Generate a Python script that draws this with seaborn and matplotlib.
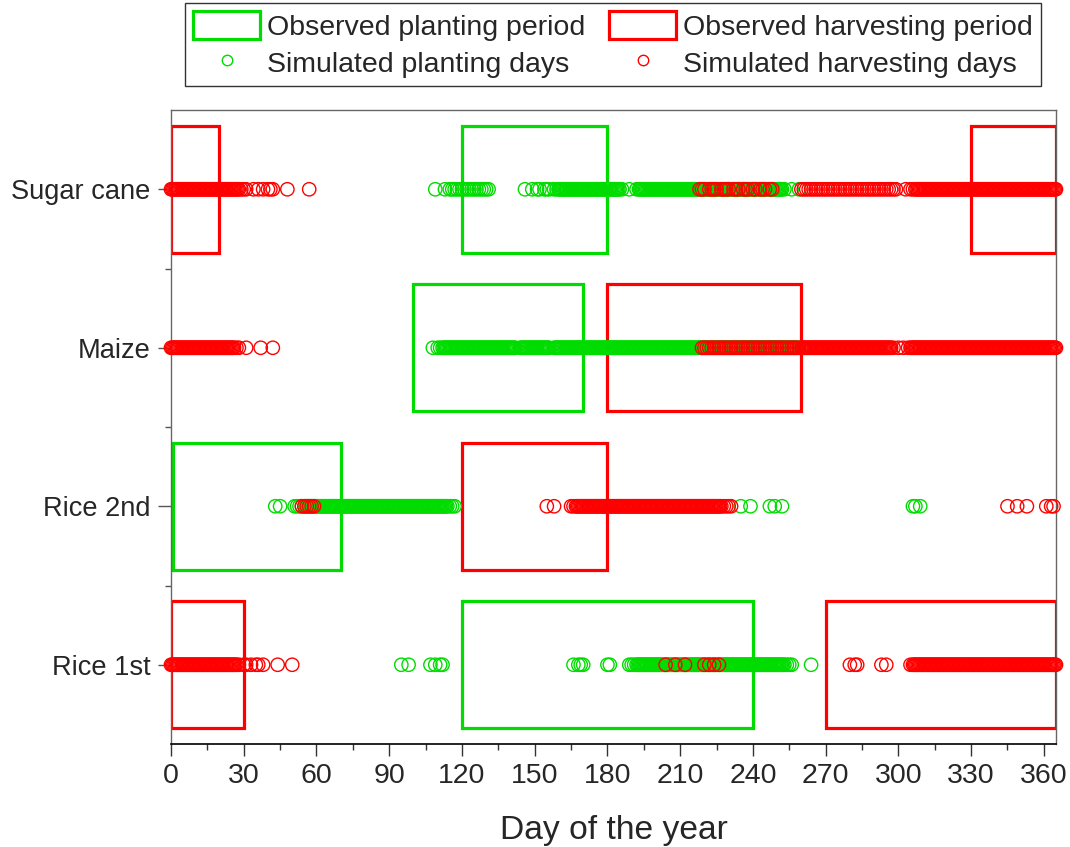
import matplotlib
matplotlib.use("Agg")
import matplotlib.pyplot as plt
from matplotlib.patches import Rectangle
from matplotlib.lines import Line2D
import pandas as pd
import seaborn as sns

sns.set_style("ticks")
plt.rcParams["font.family"] = ["Liberation Sans", "DejaVu Sans"]

GREEN = "#00dc00"
RED = "#ff0000"

crops = ["Rice 1st", "Rice 2nd", "Maize", "Sugar cane"]

# Observed windows (start day, end day)
plant_obs_cane = [(120, 180)]
harv_obs_cane = [(0, 20), (330, 365)]
plant_obs_maize = [(100, 170)]
harv_obs_maize = [(180, 260)]
plant_obs_rice2 = [(1, 70)]
harv_obs_rice2 = [(120, 180)]
plant_obs_rice1 = [(120, 240)]
harv_obs_rice1 = [(0, 30), (270, 365)]

# Simulated planting days
plant_sim_cane = [
    109, 113, 115, 116, 117, 118, 119, 120, 121, 122, 123, 124, 125, 126, 127, 128,
    129, 130, 131,
    146, 149, 151, 152, 154, 155, 156, 158, 159,
    160, 160.5, 161, 161.5, 162, 162.5, 163, 163.5, 164, 164.5, 165, 165.5, 166,
    166.5, 167, 167.5, 168, 168.5, 169, 169.5, 170, 170.5, 171, 171.5, 172, 172.5,
    173, 173.5, 174, 174.5, 175, 175.5, 176, 176.5, 177, 177.5, 178, 178.5, 179,
    179.5, 180, 180.5, 181, 181.5, 182, 182.5, 183, 183.5, 184, 184.5, 185, 186, 189,
    192, 193, 193.5, 194, 194.5, 195, 195.5, 196, 196.5, 197, 197.5, 198, 198.5, 199,
    199.5, 200, 200.5, 201, 201.5, 202, 202.5, 203, 203.5, 204, 204.5, 205, 205.5,
    206, 206.5, 207, 207.5, 208, 208.5, 209, 209.5, 210, 210.5, 211, 211.5, 212,
    212.5, 213, 213.5, 214, 214.5, 215, 215.5, 216, 216.5, 217, 217.5, 218, 218.5,
    219, 219.5, 220, 220.5, 221, 221.5, 222, 222.5, 223, 223.5, 224, 224.5, 225,
    225.5, 226, 226.5, 227, 227.5, 228, 228.5, 229, 229.5, 230, 230.5, 231, 231.5,
    232, 232.5, 233, 233.5, 234, 234.5, 235, 235.5, 236, 236.5, 237, 237.5, 238,
    238.5, 239, 239.5, 240, 240.5, 241, 241.5, 242, 242.5, 243, 243.5, 244, 244.5,
    245, 245.5, 246, 246.5, 247, 247.5, 248, 248.5, 249, 249.5, 250, 250.5, 251,
    251.5, 252, 253, 256, 259,
]
plant_sim_maize = [
    108, 110, 111, 112, 112.5, 113, 113.5, 114, 114.5, 115, 115.5, 116, 116.5, 117,
    117.5, 118, 118.5, 119, 119.5, 120, 120.5, 121, 121.5, 122, 122.5, 123, 123.5,
    124, 124.5, 125, 125.5, 126, 126.5, 127, 127.5, 128, 128.5, 129, 129.5, 130,
    130.5, 131, 131.5, 132, 132.5, 133, 133.5, 134, 134.5, 135, 135.5, 136, 136.5,
    137, 137.5, 138, 138.5, 139, 139.5, 140, 140.5, 141, 141.5, 142, 144, 144.5, 145,
    145.5, 146, 146.5, 147, 147.5, 148, 148.5, 149, 149.5, 150, 150.5, 151, 151.5,
    152, 152.5, 153, 153.5, 154, 154.5, 155, 155.5, 156, 158, 158.5, 159, 159.5, 160,
    160.5, 161, 161.5, 162, 162.5, 163, 163.5, 164, 164.5, 165, 165.5, 166, 166.5,
    167, 167.5, 168, 168.5, 169, 169.5, 170, 170.5, 171, 171.5, 172, 172.5, 173,
    173.5, 174, 174.5, 175, 175.5, 176, 176.5, 177, 177.5, 178, 178.5, 179, 179.5,
    180, 180.5, 181, 181.5, 182, 182.5, 183, 183.5, 184, 184.5, 185, 185.5, 186,
    186.5, 187, 187.5, 188, 188.5, 189, 189.5, 190, 190.5, 191, 191.5, 192, 192.5,
    193, 193.5, 194, 194.5, 195, 195.5, 196, 196.5, 197, 197.5, 198, 198.5, 199,
    199.5, 200, 200.5, 201, 201.5, 202, 202.5, 203, 203.5, 204, 204.5, 205, 205.5,
    206, 206.5, 207, 207.5, 208, 208.5, 209, 209.5, 210, 210.5, 211, 211.5, 212,
    212.5, 213, 213.5, 214, 214.5, 215, 215.5, 216, 216.5, 217, 217.5, 218, 218.5,
    219, 219.5, 220, 220.5, 221, 221.5, 222, 222.5, 223, 223.5, 224, 224.5, 225,
    225.5, 226, 226.5, 227, 227.5, 228, 228.5, 229, 229.5, 230, 230.5, 231, 231.5,
    232, 232.5, 233, 233.5, 234, 234.5, 235, 235.5, 236, 236.5, 237, 237.5, 238,
    238.5, 239, 239.5, 240, 240.5, 241, 241.5, 242, 242.5, 243, 243.5, 244, 244.5,
    245, 245.5, 246, 246.5, 247, 247.5, 248, 248.5, 249, 249.5, 250, 250.5, 251,
    251.5, 252, 252.5, 253, 253.5, 254, 254.5, 255, 255.5, 256, 256.5, 257, 257.5,
    258, 259,
]
plant_sim_rice2 = [
    43, 45, 51, 52, 53, 54, 55, 55.5, 56, 56.5, 57, 57.5, 58, 58.5, 59, 59.5, 60,
    60.5, 61, 61.5, 62, 62.5, 63, 63.5, 64, 64.5, 65, 65.5, 66, 66.5, 67, 67.5, 68,
    68.5, 69, 69.5, 70, 70.5, 71, 71.5, 72, 72.5, 73, 73.5, 74, 74.5, 75, 75.5, 76,
    76.5, 77, 77.5, 78, 78.5, 79, 79.5, 80, 80.5, 81, 81.5, 82, 82.5, 83, 83.5, 84,
    84.5, 85, 85.5, 86, 86.5, 87, 87.5, 88, 88.5, 89, 89.5, 90, 90.5, 91, 91.5, 92,
    92.5, 93, 93.5, 94, 94.5, 95, 95.5, 96, 96.5, 97, 97.5, 98, 98.5, 99, 99.5, 100,
    100.5, 101, 101.5, 102, 102.5, 103, 103.5, 104, 104.5, 105, 105.5, 106, 106.5,
    107, 107.5, 108, 108.5, 109, 109.5, 110, 110.5, 111, 111.5, 112, 112.5, 113,
    113.5, 114, 115, 116, 117,
    235, 239, 247, 249, 252, 306, 307, 309,
]
plant_sim_rice1 = [
    95, 98, 107, 109, 111, 112, 166, 168, 169, 170, 180, 181,
    189, 190, 191, 192, 192.5, 193, 193.5, 194, 194.5, 195, 195.5, 196, 196.5, 197,
    197.5, 198, 198.5, 199, 199.5, 200, 200.5, 201, 201.5, 202, 202.5, 203, 203.5,
    204, 204.5, 205, 205.5, 206, 206.5, 207, 207.5, 208, 208.5, 209, 209.5, 210,
    210.5, 211, 211.5, 212, 212.5, 213, 213.5, 214, 214.5, 215, 215.5, 216, 216.5,
    217, 217.5, 218, 218.5, 219, 219.5, 220, 220.5, 221, 221.5, 222, 222.5, 223,
    223.5, 224, 224.5, 225, 225.5, 226, 226.5, 227, 227.5, 228, 228.5, 229, 229.5,
    230, 230.5, 231, 231.5, 232, 232.5, 233, 233.5, 234, 234.5, 235, 235.5, 236,
    236.5, 237, 237.5, 238, 238.5, 239, 239.5, 240, 240.5, 241, 241.5, 242, 242.5,
    243, 243.5, 244, 244.5, 245, 245.5, 246, 246.5, 247, 247.5, 248, 248.5, 249,
    249.5, 250, 250.5, 251, 251.5, 252, 252.5, 253, 254, 255, 256, 264,
]

# Simulated harvesting days
harv_sim_cane = [
    0, 0.5, 1, 1.5, 2, 2.5, 3, 3.5, 4, 4.5, 5, 5.5, 6, 6.5, 7, 7.5, 8, 8.5, 9, 9.5,
    10, 10.5, 11, 11.5, 12, 12.5, 13, 13.5, 14, 14.5, 15, 15.5, 16, 16.5, 17, 17.5,
    18, 18.5, 19, 19.5, 20, 20.5, 21, 21.5, 22, 22.5, 23, 23.5, 24, 24.5, 25, 25.5,
    26, 26.5, 27, 27.5, 28, 29, 30, 31, 34, 36, 38, 40, 41, 42, 48, 57,
    218, 219, 220, 222, 223, 224, 225, 227, 228, 229, 230, 232, 233, 234, 236, 237,
    238, 240, 241, 243, 244, 245, 247, 248,
    260, 261, 262, 263, 264, 265, 266, 267, 268, 269, 270, 271, 272, 273, 274, 275,
    276, 277, 278, 279, 280, 281, 282, 283, 284, 285, 286, 287, 288, 289, 290, 291,
    292, 293, 294, 295, 296, 297, 298, 299, 303,
    305, 306, 307, 307.5, 308, 308.5, 309, 309.5, 310, 310.5, 311, 311.5, 312, 312.5,
    313, 313.5, 314, 314.5, 315, 315.5, 316, 316.5, 317, 317.5, 318, 318.5, 319,
    319.5, 320, 320.5, 321, 321.5, 322, 322.5, 323, 323.5, 324, 324.5, 325, 325.5,
    326, 326.5, 327, 327.5, 328, 328.5, 329, 329.5, 330, 330.5, 331, 331.5, 332,
    332.5, 333, 333.5, 334, 334.5, 335, 335.5, 336, 336.5, 337, 337.5, 338, 338.5,
    339, 339.5, 340, 340.5, 341, 341.5, 342, 342.5, 343, 343.5, 344, 344.5, 345,
    345.5, 346, 346.5, 347, 347.5, 348, 348.5, 349, 349.5, 350, 350.5, 351, 351.5,
    352, 352.5, 353, 353.5, 354, 354.5, 355, 355.5, 356, 356.5, 357, 357.5, 358,
    358.5, 359, 359.5, 360, 360.5, 361, 361.5, 362, 362.5, 363, 363.5, 364, 364.5,
    365,
]
harv_sim_maize = [
    0, 0.5, 1, 1.5, 2, 2.5, 3, 3.5, 4, 4.5, 5, 5.5, 6, 6.5, 7, 7.5, 8, 8.5, 9, 9.5,
    10, 10.5, 11, 11.5, 12, 12.5, 13, 13.5, 14, 14.5, 15, 15.5, 16, 16.5, 17, 17.5,
    18, 18.5, 19, 19.5, 20, 20.5, 21, 21.5, 22, 22.5, 23, 23.5, 24, 24.5, 25, 25.5,
    26, 27, 28, 31, 37, 42,
    219, 220, 221, 222, 223, 224, 225, 226, 227, 228, 229, 230, 231, 232, 233, 234,
    235, 236, 237, 238, 239, 240, 241, 242, 243, 244, 245, 246, 247, 248, 249, 250,
    251, 252, 253, 254, 255, 256, 257, 258, 259,
    260, 260.5, 261, 261.5, 262, 262.5, 263, 263.5, 264, 264.5, 265, 265.5, 266,
    266.5, 267, 267.5, 268, 268.5, 269, 269.5, 270, 270.5, 271, 271.5, 272, 272.5,
    273, 273.5, 274, 274.5, 275, 275.5, 276, 276.5, 277, 277.5, 278, 278.5, 279,
    279.5, 280, 280.5, 281, 281.5, 282, 282.5, 283, 283.5, 284, 284.5, 285, 285.5,
    286, 286.5, 287, 287.5, 288, 288.5, 289, 289.5, 290, 290.5, 291, 291.5, 292,
    292.5, 293, 293.5, 294, 294.5, 295, 295.5, 296, 296.5, 297, 298, 300, 302, 304,
    305, 305.5, 306, 306.5, 307, 307.5, 308, 308.5, 309, 309.5, 310, 310.5, 311,
    311.5, 312, 312.5, 313, 313.5, 314, 314.5, 315, 315.5, 316, 316.5, 317, 317.5,
    318, 318.5, 319, 319.5, 320, 320.5, 321, 321.5, 322, 322.5, 323, 323.5, 324,
    324.5, 325, 325.5, 326, 326.5, 327, 327.5, 328, 328.5, 329, 329.5, 330, 330.5,
    331, 331.5, 332, 332.5, 333, 333.5, 334, 334.5, 335, 335.5, 336, 336.5, 337,
    337.5, 338, 338.5, 339, 339.5, 340, 340.5, 341, 341.5, 342, 342.5, 343, 343.5,
    344, 344.5, 345, 345.5, 346, 346.5, 347, 347.5, 348, 348.5, 349, 349.5, 350,
    350.5, 351, 351.5, 352, 352.5, 353, 353.5, 354, 354.5, 355, 355.5, 356, 356.5,
    357, 357.5, 358, 358.5, 359, 359.5, 360, 360.5, 361, 361.5, 362, 362.5, 363,
    363.5, 364, 364.5, 365,
]
harv_sim_rice2 = [
    54, 55, 56, 57, 58, 59, 155, 158,
    165, 166, 167, 167.5, 168, 168.5, 169, 169.5, 170, 170.5, 171, 171.5, 172, 172.5,
    173, 173.5, 174, 174.5, 175, 175.5, 176, 176.5, 177, 177.5, 178, 178.5, 179,
    179.5, 180, 180.5, 181, 181.5, 182, 182.5, 183, 183.5, 184, 184.5, 185, 185.5,
    186, 186.5, 187, 187.5, 188, 188.5, 189, 189.5, 190, 190.5, 191, 191.5, 192,
    192.5, 193, 193.5, 194, 194.5, 195, 195.5, 196, 196.5, 197, 197.5, 198, 198.5,
    199, 199.5, 200, 200.5, 201, 201.5, 202, 202.5, 203, 203.5, 204, 204.5, 205,
    205.5, 206, 206.5, 207, 207.5, 208, 208.5, 209, 209.5, 210, 210.5, 211, 211.5,
    212, 212.5, 213, 213.5, 214, 214.5, 215, 215.5, 216, 216.5, 217, 217.5, 218,
    218.5, 219, 219.5, 220, 220.5, 221, 221.5, 222, 222.5, 223, 223.5, 224, 224.5,
    225, 225.5, 226, 226.5, 227, 228, 229, 230, 231,
    345, 349, 353, 361, 363, 364,
]
harv_sim_rice1 = [
    0, 0.5, 1, 1.5, 2, 2.5, 3, 3.5, 4, 4.5, 5, 5.5, 6, 6.5, 7, 7.5, 8, 8.5, 9, 9.5,
    10, 10.5, 11, 11.5, 12, 12.5, 13, 13.5, 14, 14.5, 15, 15.5, 16, 16.5, 17, 17.5,
    18, 18.5, 19, 19.5, 20, 20.5, 21, 21.5, 22, 22.5, 23, 23.5, 24, 24.5, 25, 25.5,
    26, 26.5, 27, 28, 30, 31, 33, 35, 36, 38, 44, 50,
    204, 208, 212, 220, 222, 224, 226, 280, 282, 283, 293, 295,
    305, 306, 306.5, 307, 307.5, 308, 308.5, 309, 309.5, 310, 310.5, 311, 311.5,
    312, 312.5, 313, 313.5, 314, 314.5, 315, 315.5, 316, 316.5, 317, 317.5, 318,
    318.5, 319, 319.5, 320, 320.5, 321, 321.5, 322, 322.5, 323, 323.5, 324, 324.5,
    325, 325.5, 326, 326.5, 327, 327.5, 328, 328.5, 329, 329.5, 330, 330.5, 331,
    331.5, 332, 332.5, 333, 333.5, 334, 334.5, 335, 335.5, 336, 336.5, 337, 337.5,
    338, 338.5, 339, 339.5, 340, 340.5, 341, 341.5, 342, 342.5, 343, 343.5, 344,
    344.5, 345, 345.5, 346, 346.5, 347, 347.5, 348, 348.5, 349, 349.5, 350, 350.5,
    351, 351.5, 352, 352.5, 353, 353.5, 354, 354.5, 355, 355.5, 356, 356.5, 357,
    357.5, 358, 358.5, 359, 359.5, 360, 360.5, 361, 361.5, 362, 362.5, 363, 363.5,
    364, 364.5, 365,
]

plant_obs = {"Sugar cane": plant_obs_cane, "Maize": plant_obs_maize,
             "Rice 2nd": plant_obs_rice2, "Rice 1st": plant_obs_rice1}
harv_obs = {"Sugar cane": harv_obs_cane, "Maize": harv_obs_maize,
            "Rice 2nd": harv_obs_rice2, "Rice 1st": harv_obs_rice1}
plant_sim = {"Sugar cane": plant_sim_cane, "Maize": plant_sim_maize,
             "Rice 2nd": plant_sim_rice2, "Rice 1st": plant_sim_rice1}
harv_sim = {"Sugar cane": harv_sim_cane, "Maize": harv_sim_maize,
            "Rice 2nd": harv_sim_rice2, "Rice 1st": harv_sim_rice1}

ypos = {c: i + 1 for i, c in enumerate(crops)}


def to_frame(sim):
    rows = [(d, ypos[c], c) for c in crops for d in sim[c]]
    return pd.DataFrame(rows, columns=["day", "y", "crop"])


plant_df = to_frame(plant_sim)
harv_df = to_frame(harv_sim)

fig = plt.figure(figsize=(10.70, 8.47), dpi=100)
ax = fig.add_axes([0.1598, 0.1216, 0.8271, 0.7485])

# Observed periods as open boxes
half_h = 0.4
for c in crops:
    for (a, b) in plant_obs[c]:
        ax.add_patch(Rectangle((a, ypos[c] - half_h), b - a, 2 * half_h,
                               fill=False, edgecolor=GREEN, linewidth=2.3, zorder=2))
    for (a, b) in harv_obs[c]:
        ax.add_patch(Rectangle((a, ypos[c] - half_h), b - a, 2 * half_h,
                               fill=False, edgecolor=RED, linewidth=2.3, zorder=2))

# Simulated days as hollow circles
sns.scatterplot(data=plant_df, x="day", y="y", ax=ax, marker="o", s=92,
                facecolor="none", edgecolor=GREEN, linewidth=1.0, zorder=3,
                clip_on=False, legend=False)
sns.scatterplot(data=harv_df, x="day", y="y", ax=ax, marker="o", s=92,
                facecolor="none", edgecolor=RED, linewidth=1.0, zorder=4,
                clip_on=False, legend=False)

ax.set_xlim(0, 365)
ax.set_ylim(0.5, 4.5)
ax.set_xticks(list(range(0, 361, 30)))
ax.set_xticks(list(range(15, 361, 30)), minor=True)
ax.set_yticks([ypos[c] for c in crops])
ax.set_yticklabels(crops)
ax.set_yticks([1.5, 2.5, 3.5], minor=True)

ax.tick_params(axis="x", which="major", direction="out", length=8.5, width=1,
               color="#333333", labelsize=20.5, pad=5)
ax.tick_params(axis="x", which="minor", direction="out", length=4.3, width=1,
               color="#333333")
ax.tick_params(axis="y", which="major", direction="out", length=9.3, width=1,
               color="#555555", labelsize=19.6, pad=5.5)
ax.tick_params(axis="y", which="minor", direction="out", length=4.3, width=1,
               color="#555555")

for side in ["left", "top", "right"]:
    ax.spines[side].set_color("#666666")
    ax.spines[side].set_linewidth(1)
ax.spines["bottom"].set_color("black")
ax.spines["bottom"].set_linewidth(1.2)

ax.set_xlabel("Day of the year", fontsize=24.2, labelpad=19)
ax.set_ylabel("")

handles = [
    Rectangle((0, 0), 1, 1, fill=False, edgecolor=GREEN, linewidth=2.3),
    Line2D([], [], linestyle="none", marker="o", markersize=7.5,
           markerfacecolor="none", markeredgecolor=GREEN, markeredgewidth=1),
    Rectangle((0, 0), 1, 1, fill=False, edgecolor=RED, linewidth=2.3),
    Line2D([], [], linestyle="none", marker="o", markersize=7.5,
           markerfacecolor="none", markeredgecolor=RED, markeredgewidth=1),
]
labels = ["Observed planting period", "Simulated planting days",
          "Observed harvesting period", "Simulated harvesting days"]
leg = fig.legend(handles, labels, ncol=2, loc="upper center",
                 bbox_to_anchor=(0.573, 0.997), frameon=True, fancybox=False,
                 edgecolor="black", fontsize=20.5, handlelength=2.34,
                 handleheight=1.15, handletextpad=0.25, columnspacing=0.85,
                 borderpad=0.3, labelspacing=0.25, borderaxespad=0)
leg.get_frame().set_linewidth(1)

fig.savefig("out.png", dpi=100)
